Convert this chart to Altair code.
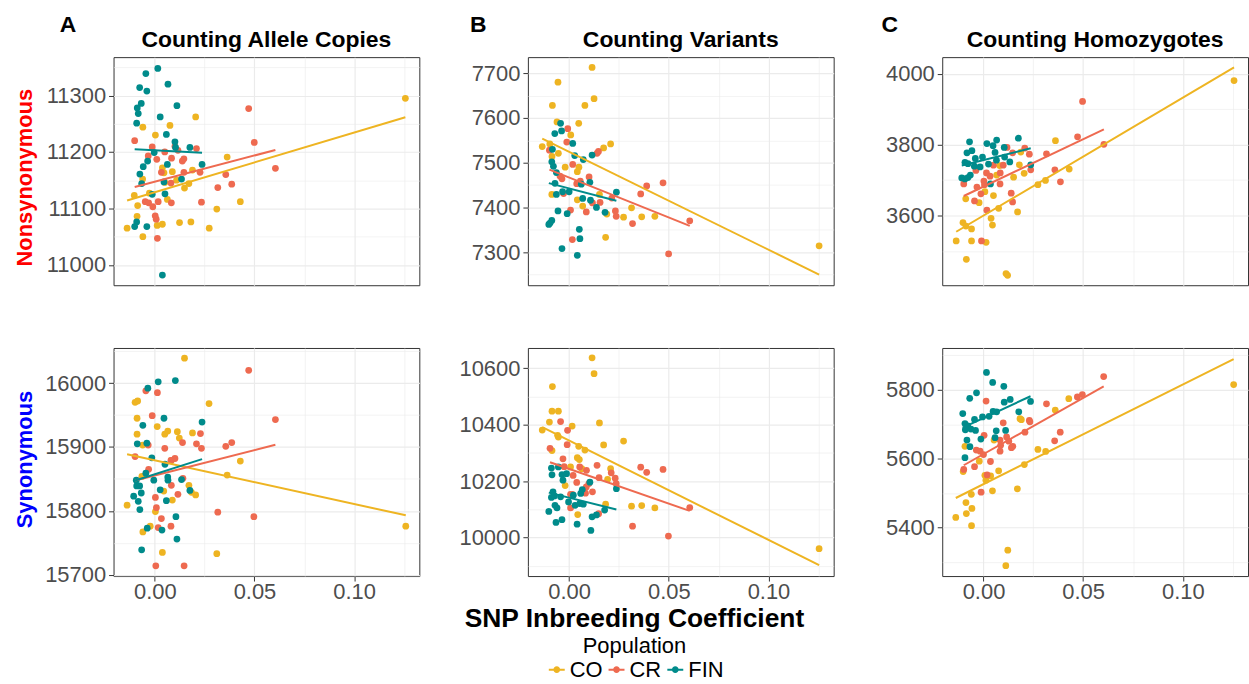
import altair as alt
import pandas as pd

POPS = ["CO", "CR", "FIN"]
COLORS = ["#EEB422", "#EE6A50", "#008B8B"]

# ---------- Counting Allele Copies / Nonsynonymous ----------
ALLELE_NS_CO = [(0.1257, 11295), (0.0205, 11262), (-0.0060, 11244), (0.0076, 11247), (0.0003, 11230),
                (0.0363, 11191), (0.0038, 11172), (0.0046, 11163), (0.0088, 11165), (0.0189, 11168),
                (-0.0061, 11152), (0.0050, 11146), (0.0109, 11150), (0.0171, 11144), (0.0149, 11136),
                (-0.0103, 11123), (-0.0027, 11127), (0.0063, 11116), (-0.0086, 11105), (0.0429, 11112),
                (0.0311, 11099), (-0.0089, 11086), (-0.0139, 11065), (0.0012, 11070), (0.0038, 11072),
                (0.0124, 11075), (0.0181, 11076), (0.0273, 11065), (-0.0060, 11050)]
ALLELE_NS_CR = [(0.0471, 11277), (-0.0101, 11220), (-0.0013, 11209), (0.0101, 11210), (0.0209, 11206),
                (0.0499, 11217), (0.0050, 11200), (0.0116, 11203), (-0.0033, 11193), (0.0010, 11187),
                (0.0084, 11189), (0.0138, 11184), (0.0146, 11188), (0.0605, 11171), (0.0033, 11164),
                (0.0146, 11164), (0.0227, 11164), (0.0356, 11160), (0.0081, 11145), (0.0386, 11143),
                (0.0316, 11137), (-0.0048, 11112), (-0.0031, 11110), (-0.0010, 11103), (0.0017, 11112),
                (0.0083, 11110), (0.0234, 11111), (0.0002, 11087), (0.0007, 11081), (0.0013, 11047)]
ALLELE_NS_FIN = [(0.0015, 11348), (-0.0045, 11339), (0.0066, 11320), (-0.0076, 11314), (-0.0040, 11308),
                 (-0.0068, 11286), (-0.0088, 11278), (0.0111, 11282), (-0.0083, 11268), (0.0027, 11262),
                 (-0.0091, 11251), (0.0058, 11231), (0.0101, 11218), (0.0104, 11208), (0.0176, 11208),
                 (-0.0003, 11199), (-0.0036, 11184), (-0.0058, 11174), (0.0063, 11178), (0.0237, 11178),
                 (-0.0075, 11161), (-0.0066, 11144), (0.0046, 11147), (0.0134, 11152), (-0.0013, 11125),
                 (0.0051, 11126), (-0.0091, 11076), (-0.0101, 11068), (-0.0040, 11068), (0.0038, 10982)]

# ---------- Counting Variants / Nonsynonymous ----------
VARIANTS_NS_CO = [(0.0115, 7713), (-0.0056, 7680), (0.0125, 7643), (-0.0084, 7628), (0.0079, 7628),
                  (-0.0061, 7591), (0.0048, 7588), (0.0008, 7562), (-0.0135, 7536), (-0.0097, 7542),
                  (-0.0054, 7521), (-0.0086, 7514), (0.0173, 7533), (0.0208, 7542), (-0.0020, 7490),
                  (0.0049, 7490), (0.0041, 7480), (0.0152, 7429), (-0.0087, 7429), (0.0041, 7417),
                  (0.0068, 7403), (0.0189, 7385), (0.0273, 7378), (0.0313, 7399), (0.0364, 7379),
                  (0.0430, 7380), (0.0183, 7333), (0.1254, 7314)]
VARIANTS_NS_CR = [(-0.0007, 7576), (-0.0012, 7546), (-0.0099, 7528), (0.0147, 7525), (0.0140, 7521),
                  (0.0018, 7496), (-0.0046, 7470), (-0.0036, 7464), (0.0100, 7468), (0.0056, 7459),
                  (0.0038, 7453), (-0.0028, 7431), (0.0155, 7411), (0.0117, 7410), (0.0086, 7390),
                  (0.0007, 7394), (0.0232, 7392), (0.0236, 7380), (0.0214, 7421), (0.0359, 7430),
                  (0.0389, 7448), (0.0471, 7455), (0.0318, 7364), (0.0605, 7370), (0.0016, 7328),
                  (0.0499, 7296)]
VARIANTS_NS_FIN = [(-0.0043, 7588), (-0.0038, 7571), (-0.0072, 7565), (0.0018, 7543), (-0.0084, 7530),
                   (0.0028, 7516), (0.0071, 7507), (0.0115, 7517), (-0.0087, 7502), (-0.0079, 7492),
                   (-0.0064, 7478), (-0.0071, 7454), (0.0061, 7452), (0.0104, 7456), (-0.0033, 7435),
                   (0.0000, 7435), (-0.0064, 7429), (0.0237, 7434), (0.0068, 7420), (0.0107, 7416),
                   (0.0137, 7400), (0.0180, 7389), (-0.0056, 7392), (-0.0010, 7386), (-0.0087, 7371),
                   (-0.0096, 7365), (-0.0102, 7362), (0.0051, 7351), (0.0054, 7330), (-0.0036, 7308),
                   (0.0041, 7293)]

# ---------- Counting Homozygotes / Nonsynonymous ----------
HOMO_NS_CO = [(0.1257, 3981), (0.0361, 3811), (0.0187, 3779), (0.0180, 3743), (0.0081, 3741),
              (0.0204, 3719), (0.0151, 3708), (0.0066, 3714), (0.0430, 3731), (0.0311, 3699),
              (0.0273, 3687), (0.0007, 3667), (0.0050, 3656), (-0.0089, 3647), (-0.0022, 3636),
              (0.0076, 3620), (0.0171, 3610), (0.0038, 3592), (0.0045, 3573), (-0.0103, 3580),
              (-0.0088, 3570), (-0.0060, 3562), (-0.0137, 3528), (-0.0060, 3528), (0.0013, 3524),
              (-0.0086, 3476), (0.0113, 3436), (0.0121, 3431)]
HOMO_NS_CR = [(0.0497, 3922), (0.0472, 3822), (0.0604, 3801), (0.0230, 3773), (0.0316, 3774),
              (0.0207, 3790), (0.0118, 3792), (0.0146, 3777), (-0.0038, 3727), (0.0099, 3742),
              (0.0050, 3742), (0.0237, 3729), (0.0358, 3729), (0.0015, 3720), (0.0033, 3711),
              (0.0084, 3720), (0.0002, 3697), (0.0005, 3687), (-0.0099, 3689), (-0.0033, 3680),
              (-0.0013, 3661), (0.0139, 3663), (0.0146, 3638), (-0.0045, 3641), (0.0386, 3695),
              (0.0083, 3689), (0.0017, 3615), (-0.0010, 3528)]
HOMO_NS_FIN = [(-0.0070, 3808), (-0.0058, 3783), (-0.0083, 3777), (0.0017, 3803), (0.0066, 3813),
               (0.0048, 3797), (0.0058, 3778), (0.0104, 3792), (0.0175, 3818), (-0.0041, 3761),
               (-0.0005, 3765), (-0.0093, 3750), (-0.0078, 3746), (-0.0046, 3739), (-0.0017, 3737),
               (0.0065, 3756), (0.0106, 3765), (0.0132, 3751), (0.0025, 3745), (0.0237, 3743),
               (-0.0066, 3714), (-0.0109, 3706), (-0.0093, 3703), (-0.0078, 3707), (0.0035, 3689)]

# ---------- Counting Allele Copies / Synonymous ----------
ALLELE_S_CO = [(0.1259, 15776), (0.0149, 16039), (0.0272, 15968), (-0.0099, 15970), (-0.0086, 15972),
               (-0.0089, 15945), (0.0012, 15932), (-0.0089, 15920), (0.0065, 15925), (0.0050, 15920),
               (0.0113, 15924), (0.0189, 15922), (0.0123, 15914), (-0.0061, 15903), (0.0429, 15878),
               (0.0363, 15856), (0.0083, 15879), (0.0171, 15840), (0.0184, 15829), (0.0205, 15825),
               (0.0045, 15831), (0.0088, 15817), (-0.0065, 15854), (-0.0139, 15809), (0.0003, 15799),
               (-0.0023, 15776), (-0.0060, 15767), (0.0038, 15735), (0.0311, 15733)]
ALLELE_S_CR = [(0.0471, 16020), (-0.0045, 15988), (0.0013, 15985), (-0.0013, 15949), (0.0605, 15943),
               (0.0229, 15921), (0.0139, 15907), (0.0209, 15905), (0.0234, 15898), (0.0356, 15901),
               (0.0386, 15907), (0.0050, 15898), (-0.0033, 15903), (-0.0099, 15885), (0.0101, 15882),
               (0.0081, 15879), (-0.0031, 15865), (0.0141, 15851), (0.0083, 15840), (0.0116, 15826),
               (0.0003, 15821), (0.0008, 15805), (0.0033, 15788), (0.0081, 15776), (0.0017, 15774),
               (0.0316, 15798), (0.0497, 15791), (0.0005, 15714), (0.0147, 15714)]
ALLELE_S_FIN = [(0.0017, 16002), (0.0103, 16004), (-0.0035, 15992), (0.0046, 15945), (0.0237, 15939),
                (-0.0060, 15934), (-0.0088, 15905), (-0.0040, 15906), (-0.0015, 15883), (0.0051, 15873),
                (-0.0045, 15859), (-0.0093, 15848), (-0.0005, 15848), (0.0065, 15853), (0.0066, 15848),
                (0.0134, 15849), (-0.0091, 15839), (-0.0076, 15839), (-0.0068, 15828), (0.0027, 15833),
                (0.0176, 15832), (-0.0106, 15823), (-0.0083, 15815), (0.0058, 15816), (-0.0075, 15802),
                (0.0106, 15791), (0.0036, 15770), (-0.0038, 15773), (0.0111, 15756), (-0.0066, 15739)]

# ---------- Counting Variants / Synonymous ----------
VARIANTS_S_CO = [(0.0115, 10637), (0.0125, 10581), (-0.0084, 10535), (-0.0086, 10448), (-0.0054, 10448),
                 (-0.0099, 10409), (0.0152, 10406), (0.0015, 10395), (-0.0135, 10381), (-0.0058, 10362),
                 (-0.0054, 10356), (-0.0086, 10308), (0.0273, 10342), (0.0173, 10328), (0.0048, 10323),
                 (0.0079, 10310), (0.0041, 10283), (0.0051, 10276), (0.0007, 10250), (0.0063, 10244),
                 (0.0208, 10244), (0.0193, 10206), (-0.0020, 10184), (0.0183, 10118), (0.0313, 10111),
                 (0.0364, 10113), (0.0430, 10105), (0.0043, 10081), (0.1254, 9960)]
VARIANTS_S_CR = [(-0.0043, 10411), (-0.0008, 10380), (-0.0010, 10329), (-0.0096, 10316), (-0.0031, 10279),
                 (-0.0025, 10251), (0.0053, 10250), (0.0140, 10256), (0.0087, 10238), (0.0211, 10229),
                 (0.0150, 10212), (0.0231, 10210), (0.0020, 10220), (0.0038, 10195), (0.0099, 10191),
                 (0.0086, 10179), (0.0117, 10162), (0.0082, 10157), (0.0007, 10153), (0.0016, 10153),
                 (0.0007, 10105), (0.0148, 10084), (0.0236, 10191), (0.0359, 10249), (0.0389, 10231),
                 (0.0471, 10241), (0.0605, 10106), (0.0318, 10040), (0.0498, 10005)]
VARIANTS_S_FIN = [(-0.0089, 10246), (-0.0054, 10250), (-0.0086, 10222), (-0.0036, 10223), (-0.0013, 10226),
                  (-0.0031, 10203), (0.0104, 10196), (0.0237, 10173), (-0.0081, 10162), (-0.0089, 10142),
                  (-0.0074, 10147), (-0.0043, 10144), (0.0021, 10150), (0.0066, 10170), (0.0058, 10156),
                  (-0.0003, 10126), (0.0030, 10114), (0.0053, 10120), (0.0071, 10118), (-0.0071, 10114),
                  (-0.0061, 10105), (-0.0102, 10092), (0.0178, 10097), (0.0137, 10080), (0.0115, 10073),
                  (-0.0066, 10053), (-0.0036, 10063), (0.0040, 10047), (0.0109, 10025)]

# ---------- Counting Homozygotes / Synonymous ----------
HOMO_S_CO = [(0.1255, 5815), (0.0428, 5774), (0.0360, 5741), (0.0183, 5716), (0.0190, 5713),
             (0.0273, 5627), (0.0312, 5621), (0.0053, 5654), (0.0205, 5583), (0.0076, 5565),
             (-0.0021, 5593), (-0.0102, 5563), (0.0007, 5552), (0.0036, 5550), (0.0012, 5538),
             (0.0045, 5507), (0.0170, 5513), (-0.0061, 5497), (-0.0088, 5473), (-0.0058, 5456),
             (-0.0086, 5441), (-0.0139, 5430), (-0.0060, 5406), (0.0122, 5335), (0.0112, 5290),
             (-0.0093, 5636)]
HOMO_S_CR = [(0.0603, 5838), (0.0471, 5779), (0.0496, 5786), (0.0013, 5767), (0.0316, 5759),
             (0.0099, 5704), (0.0230, 5711), (0.0233, 5707), (0.0385, 5677), (0.0208, 5677),
             (0.0357, 5652), (0.0147, 5636), (0.0140, 5632), (0.0083, 5654), (0.0083, 5622),
             (0.0086, 5639), (0.0116, 5663), (0.0003, 5668), (-0.0036, 5625), (-0.0017, 5622),
             (0.0000, 5612), (0.0035, 5592), (-0.0099, 5569), (-0.0045, 5577), (0.0018, 5553),
             (-0.0012, 5503), (0.0127, 5651)]
HOMO_S_FIN = [(0.0015, 5850), (0.0046, 5821), (0.0102, 5810), (-0.0035, 5791), (-0.0069, 5775),
              (0.0104, 5764), (0.0134, 5772), (0.0236, 5766), (0.0177, 5736), (-0.0104, 5731),
              (0.0048, 5737), (0.0066, 5736), (0.0028, 5723), (-0.0005, 5721), (-0.0045, 5714),
              (-0.0093, 5702), (-0.0079, 5695), (-0.0063, 5686), (-0.0040, 5682), (-0.0091, 5684),
              (0.0064, 5681), (0.0111, 5682), (-0.0013, 5657), (0.0058, 5661), (-0.0083, 5654),
              (-0.0068, 5635), (-0.0093, 5603)]

COLUMN_TITLES = ["Counting Allele Copies", "Counting Variants", "Counting Homozygotes"]
PANEL_TAGS = ["A", "B", "C"]
ROW_TITLES = ["Nonsynonymous", "Synonymous"]
ROW_COLORS = ["#FF0000", "#0000FF"]
X_TITLE = "SNP Inbreeding Coefficient"

X_DOMAIN = [-0.0207, 0.1327]
X_VALUES = [0.0, 0.025, 0.05, 0.075, 0.1, 0.125]

# y domain, gridline values and major step, per panel
Y_SETUP = {
    "ALLELE_NS": ([10964, 11368], [11000, 11050, 11100, 11150, 11200, 11250, 11300, 11350], 100),
    "VARIANTS_NS": ([7226, 7736], [7250, 7300, 7350, 7400, 7450, 7500, 7550, 7600, 7650, 7700], 100),
    "HOMO_NS": ([3403, 4047], [3500, 3600, 3700, 3800, 3900, 4000], 200),
    "ALLELE_S": ([15698, 16055], [15700, 15750, 15800, 15850, 15900, 15950, 16000, 16050], 100),
    "VARIANTS_S": ([9863, 10672], [9900, 10000, 10100, 10200, 10300, 10400, 10500, 10600], 200),
    "HOMO_S": ([5260, 5921], [5300, 5400, 5500, 5600, 5700, 5800, 5900], 200),
}

W, H = 307, 229
FONT = "Liberation Sans"

LEGEND_SYMBOL = ("M-1,-0.12L1,-0.12L1,0.12L-1,0.12Z"
                 "M0.42,0A0.42,0.42,0,1,1,-0.42,0A0.42,0.42,0,1,1,0.42,0Z")


def frame(co, cr, fin):
    rows = []
    for pop, pts in zip(POPS, (co, cr, fin)):
        for xv, yv in pts:
            rows.append({"pop": pop, "x": xv, "y": yv})
    return pd.DataFrame(rows)


def text_layer(txt, x, y, size, weight="bold", color="black", align="left", angle=0, baseline="alphabetic"):
    kw = dict(font=FONT, fontSize=size, fontWeight=weight, color=color, align=align, baseline=baseline)
    if angle:
        kw["angle"] = angle
    return alt.Chart(pd.DataFrame({"t": [txt]})).mark_text(**kw).encode(
        x=alt.value(x), y=alt.value(y), text="t:N")


def panel(key, df, col, row):
    ydom, yvals, ystep = Y_SETUP[key]
    bottom = row == 1
    ytest = f"datum.value % {ystep} !== 0"
    xtest = "round(datum.value * 1000) % 50 !== 0"
    yaxis = alt.Axis(
        values=yvals, title=None, grid=True, domain=False,
        labelExpr=f"datum.value % {ystep} === 0 ? format(datum.value, 'd') : ''",
        tickOpacity={"condition": {"test": ytest, "value": 0}, "value": 1},
        gridWidth={"condition": {"test": ytest, "value": 0.6}, "value": 1.2},
    )
    if bottom:
        xaxis = alt.Axis(
            values=X_VALUES, title=None, grid=True, domain=False,
            labelExpr="round(datum.value * 1000) % 50 === 0 ? format(datum.value, '.2f') : ''",
            tickOpacity={"condition": {"test": xtest, "value": 0}, "value": 1},
            gridWidth={"condition": {"test": xtest, "value": 0.6}, "value": 1.2},
        )
    else:
        xaxis = alt.Axis(
            values=X_VALUES, title=None, grid=True, domain=False, labels=False, ticks=False,
            gridWidth={"condition": {"test": xtest, "value": 0.6}, "value": 1.2},
        )
    xenc = alt.X("x:Q", scale=alt.Scale(domain=X_DOMAIN, nice=False, zero=False), axis=xaxis)
    yenc = alt.Y("y:Q", scale=alt.Scale(domain=ydom, nice=False, zero=False), axis=yaxis)
    legend = alt.Legend(
        title="Population", orient="none", legendX=434, legendY=581, direction="horizontal",
        titleAnchor="middle", titleOrient="top", titleFontSize=22, titleFontWeight="normal",
        titleFont=FONT, titleColor="black", titlePadding=1,
        labelFontSize=22, labelFont=FONT, labelColor="black", labelOffset=2,
        symbolType=LEGEND_SYMBOL, symbolSize=256, symbolStrokeWidth=0, symbolOpacity=1,
        columnPadding=3,
    )
    base = alt.Chart(df)
    pts = base.mark_circle(size=46, opacity=1).encode(
        x=xenc, y=yenc,
        color=alt.Color("pop:N", scale=alt.Scale(domain=POPS, range=COLORS), legend=legend),
    )
    fit = base.transform_regression("x", "y", groupby=["pop"]).mark_line(strokeWidth=2).encode(
        x=xenc, y=yenc,
        stroke=alt.Stroke("pop:N", scale=alt.Scale(domain=POPS, range=COLORS), legend=None),
    )
    layers = [pts, fit]
    if row == 0:
        layers.append(text_layer(COLUMN_TITLES[col], W / 2, -10, 23, align="center"))
        layers.append(text_layer(PANEL_TAGS[col], [-54, -58, -61][col], -25, 23))
    if col == 0:
        layers.append(text_layer(ROW_TITLES[row], -82, [121, 112][row], 22,
                                 color=ROW_COLORS[row], align="center", angle=270))
    if row == 1 and col == 1:
        layers.append(text_layer(X_TITLE, 107, 280, 26.5, align="center"))
    return alt.layer(*layers).properties(width=W, height=H)


panels = [
    panel("ALLELE_NS", frame(ALLELE_NS_CO, ALLELE_NS_CR, ALLELE_NS_FIN), 0, 0),
    panel("VARIANTS_NS", frame(VARIANTS_NS_CO, VARIANTS_NS_CR, VARIANTS_NS_FIN), 1, 0),
    panel("HOMO_NS", frame(HOMO_NS_CO, HOMO_NS_CR, HOMO_NS_FIN), 2, 0),
    panel("ALLELE_S", frame(ALLELE_S_CO, ALLELE_S_CR, ALLELE_S_FIN), 0, 1),
    panel("VARIANTS_S", frame(VARIANTS_S_CO, VARIANTS_S_CR, VARIANTS_S_FIN), 1, 1),
    panel("HOMO_S", frame(HOMO_S_CO, HOMO_S_CR, HOMO_S_FIN), 2, 1),
]

chart = alt.concat(
    *panels, columns=3, spacing={"row": 63, "column": 109}, bounds="flush"
).resolve_scale(
    x="independent", y="independent", color="shared", stroke="shared"
).properties(
    padding={"left": 13, "top": 12, "right": 0, "bottom": 0}
).configure_view(
    stroke="#333333", strokeWidth=1
).configure_axis(
    labelFont=FONT, labelFontSize=22, labelColor="#4D4D4D",
    tickColor="#333333", tickSize=5, tickWidth=1, labelPadding=3,
    gridColor="#EBEBEB", labelOverlap=False, labelFlush=False,
).configure_axisX(labelPadding=1)

chart.save("out.html", embed_options={"renderer": "svg", "actions": False})
